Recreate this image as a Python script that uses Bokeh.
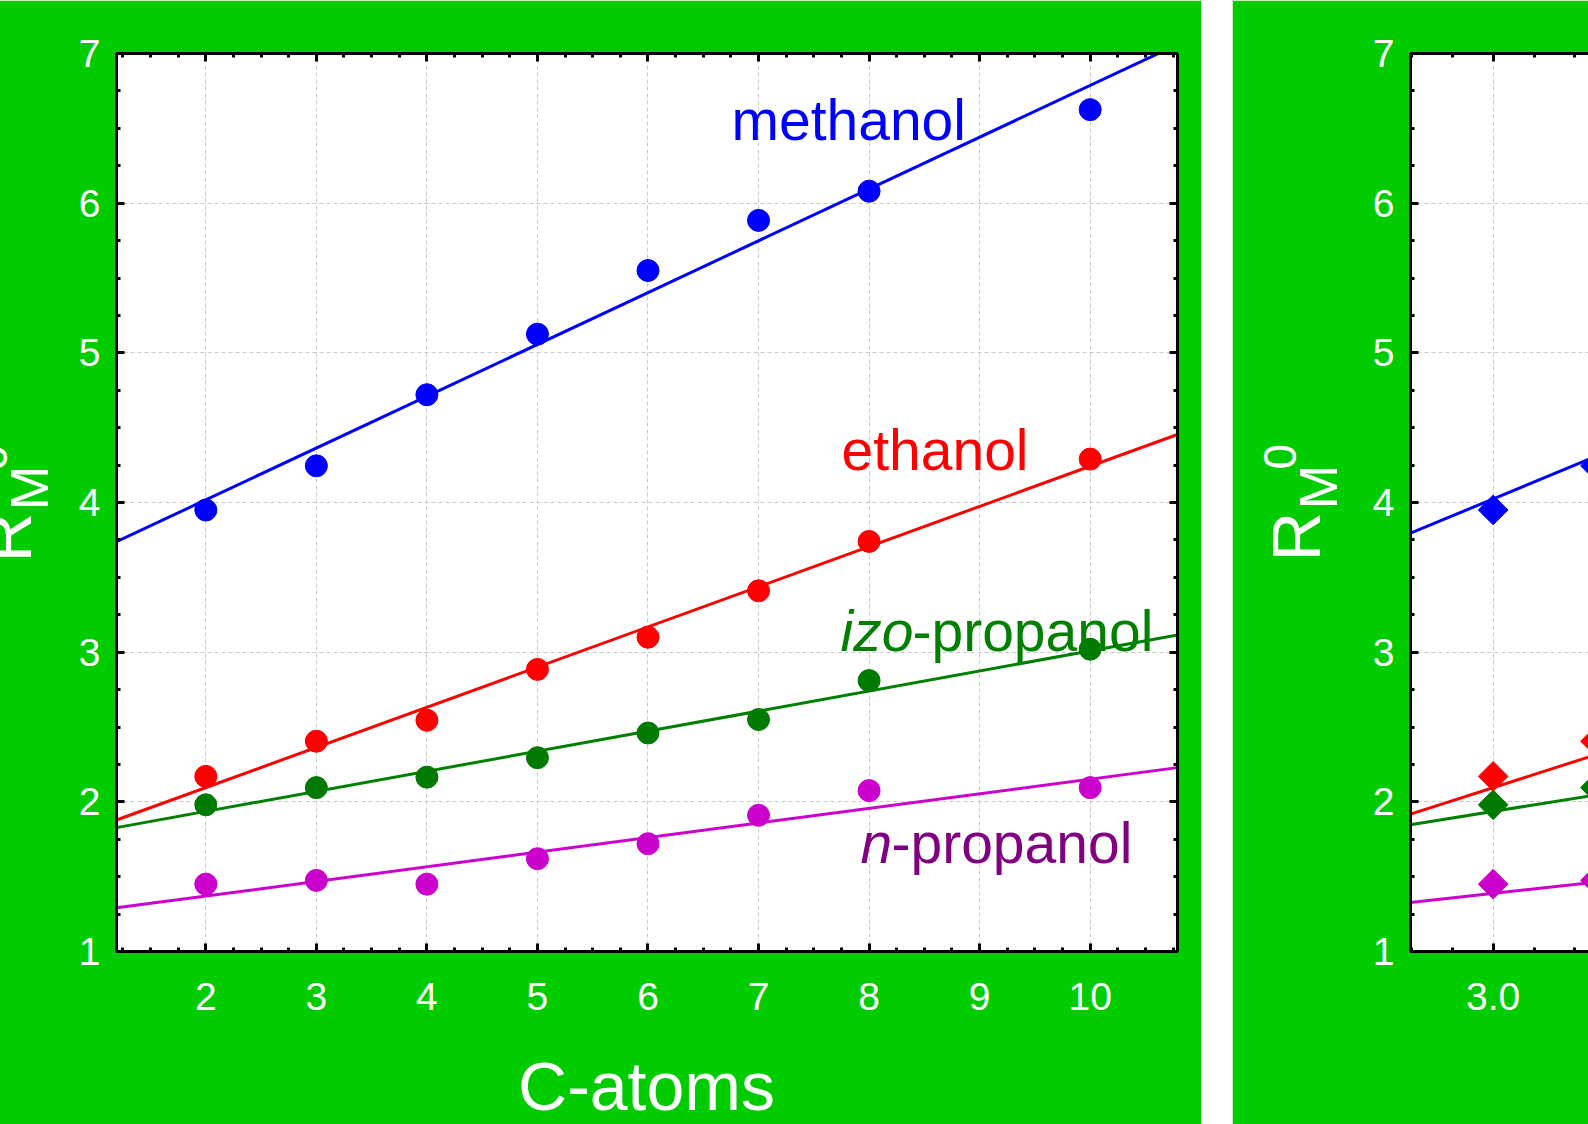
import numpy as np
from bokeh.plotting import figure
from bokeh.models import (Range1d, LinearAxis, SingleIntervalTicker, Label,
                          PrintfTickFormatter, CustomJSTickFormatter)
from bokeh.layouts import row
from bokeh.embed import file_html
from bokeh.resources import INLINE

# ---------------- data ----------------
c_atoms = [2, 3, 4, 5, 6, 7, 8, 10]
methanol = [3.95, 4.245, 4.72, 5.125, 5.55, 5.885, 6.08, 6.625]
ethanol = [2.17, 2.405, 2.545, 2.885, 3.10, 3.41, 3.74, 4.29]
izo_propanol = [1.98, 2.095, 2.165, 2.295, 2.46, 2.55, 2.81, 3.02]
n_propanol = [1.45, 1.475, 1.45, 1.62, 1.72, 1.91, 2.075, 2.095]

# second panel (only its left part is visible)
descriptor = [3.0, 3.25]
right_slope = [1.133, 0.876, 0.44, 0.30]
right_intercept = [0.625, -0.533, 0.616, 0.488]

series_values = [methanol, ethanol, izo_propanol, n_propanol]
marker_colors = ["#0000ff", "#ff0000", "#007a00", "#cc00cc"]
line_colors = ["#0000ff", "#ff0000", "#008000", "#cc00cc"]

GREEN = "#00cc00"
FONT = "Liberation Sans"
MID = 0.346  # baseline offset below text middle, in em

# ---------------- geometry (page px) ----------------
H = 1124
L_END = 1201
GAP = 31
R_LEFT = L_END + GAP
L_SHIFT = 104                        # left figure starts left of the page edge
L_FRAME = (116, 1177, 53, 956)       # left, right, top, bottom
R_FRAME = (1405, 1588, 53, 951)
L_X = (1.192, 10.79)
R_X = (2.798, 3.233)
Y_R = (1.0, 7.0)


def to_data(frame, xr, yr, px, py):
    l, r, t, b = frame
    x = xr[0] + (px - l) / (r - l) * (xr[1] - xr[0])
    y = yr[0] + (b - py) / (b - t) * (yr[1] - yr[0])
    return x, y


def make_fig(fig_left, fig_right, frame, xr):
    l, r, t, b = frame
    p = figure(width=fig_right - fig_left, height=H, output_backend="svg",
               toolbar_location=None, x_range=Range1d(*xr), y_range=Range1d(*Y_R),
               min_border_left=l - fig_left, min_border_right=fig_right - r,
               min_border_top=t, min_border_bottom=H - b)
    p.border_fill_color = GREEN
    p.background_fill_color = "white"
    p.outline_line_color = None
    return p


def style_axis(ax, show_labels=True):
    ax.axis_line_color = "black"
    ax.axis_line_width = 3
    ax.major_tick_in = 8
    ax.major_tick_out = 0
    ax.minor_tick_in = 4
    ax.minor_tick_out = 0
    ax.major_tick_line_width = 3
    ax.minor_tick_line_width = 3
    ax.major_tick_line_color = "black"
    ax.minor_tick_line_color = "black"
    ax.major_label_text_color = "white"
    ax.major_label_text_font = FONT
    ax.major_label_text_font_size = "39px"
    if not show_labels:
        ax.formatter = CustomJSTickFormatter(code="return ''")
        ax.major_label_text_font_size = "10px"


def style_grid(p):
    for g in (p.xgrid, p.ygrid):
        g.grid_line_color = "#c8c8c8"
        g.grid_line_dash = "4 3"
        g.grid_line_width = 1


def canvas_label(p, side, fig_left, px, py, text, size, **kw):
    p.add_layout(Label(x=px - fig_left, y=py, x_units="canvas", y_units="canvas",
                       text=text, text_font=FONT, text_font_size=f"{size}px",
                       text_baseline="middle", **kw), side)


# y-axis title R_M^0 : text, size, baseline offset from frame, start y
Y_PARTS = [("R", 69, -85, 561), ("M", 54, -69, 509), ("0", 46, -110, 469)]


def ylabel_part(p, side, frame, fig_left, part, dy=0):
    txt, size, off, sy = part
    bx = frame[0] + off
    canvas_label(p, side, fig_left, bx - MID * size, sy + dy, txt, size,
                 angle=np.pi / 2, text_align="left", text_color="white")


# ---------------- left panel ----------------
p1 = make_fig(-L_SHIFT, L_END, L_FRAME, L_X)
p1.margin = (0, 0, 0, -L_SHIFT)
xt = SingleIntervalTicker(interval=1, num_minor_ticks=4)
yt = SingleIntervalTicker(interval=1, num_minor_ticks=4)
p1.xaxis.ticker = xt
p1.yaxis.ticker = yt
p1.add_layout(LinearAxis(ticker=xt), "above")
p1.add_layout(LinearAxis(ticker=yt), "right")
for ax in p1.below + p1.left:
    style_axis(ax)
for ax in p1.above + p1.right:
    style_axis(ax, show_labels=False)
p1.left[0].major_label_standoff = 16
p1.below[0].major_label_standoff = 31
style_grid(p1)
p1.xgrid.ticker = xt
p1.ygrid.ticker = yt

xs = np.array(c_atoms, dtype=float)
xline = np.array(L_X)
for vals, mc, lc in zip(series_values, marker_colors, line_colors):
    k, b0 = np.polyfit(xs, np.array(vals), 1)
    p1.line(xline, k * xline + b0, line_color=lc, line_width=3)
    p1.scatter(c_atoms, vals, marker="circle", size=22, fill_color=mc, line_color=mc)

texts = [
    ("methanol", "normal", "#0000ff", 731, 140),
    ("ethanol", "normal", "#ff0000", 841, 471),
    ("izo", "italic", "#008000", 840, 653),
    ("-propanol", "normal", "#008000", 912, 653),
    ("n", "italic", "#800080", 860, 867),
    ("-propanol", "normal", "#800080", 891, 867),
]
for txt, style, col, px, py in texts:
    x, y = to_data(L_FRAME, L_X, Y_R, px, py - MID * 57)
    p1.add_layout(Label(x=x, y=y, text=txt, text_align="left", text_baseline="middle",
                        text_color=col, text_font=FONT, text_font_size="57px",
                        text_font_style=style))

canvas_label(p1, "below", -L_SHIFT, 646, 1109 - MID * 68, "C-atoms", 68,
             text_align="center", text_color="white")
for part in Y_PARTS:
    ylabel_part(p1, "left", L_FRAME, -L_SHIFT, part, dy=1)

# ---------------- right panel ----------------
p2 = make_fig(R_LEFT, 1588, R_FRAME, R_X)
xt2 = SingleIntervalTicker(interval=0.5, num_minor_ticks=5)
yt2 = SingleIntervalTicker(interval=1, num_minor_ticks=4)
p2.xaxis.ticker = xt2
p2.yaxis.ticker = yt2
p2.xaxis.formatter = PrintfTickFormatter(format="%.1f")
p2.add_layout(LinearAxis(ticker=xt2), "above")
for ax in p2.below + p2.left:
    style_axis(ax)
for ax in p2.above:
    style_axis(ax, show_labels=False)
p2.left[0].major_label_standoff = 16
p2.below[0].major_label_standoff = 31
style_grid(p2)
p2.xgrid.ticker = xt2
p2.ygrid.ticker = yt2

xline2 = np.array(R_X)
for vals, mc, lc, k, b0 in zip(series_values, marker_colors, line_colors, right_slope, right_intercept):
    p2.line(xline2, k * xline2 + b0, line_color=lc, line_width=3)
    p2.scatter(descriptor, vals[:len(descriptor)], marker="square", angle=np.pi / 4,
               size=21, fill_color=mc, line_color=mc)
ylabel_part(p2, "left", R_FRAME, R_LEFT, Y_PARTS[0])
ylabel_part(p2, "left", R_FRAME, R_LEFT, Y_PARTS[1])
ylabel_part(p2, "below", R_FRAME, R_LEFT, Y_PARTS[2])

layout = row(p1, p2, spacing=GAP)
open("out.html", "w").write(file_html(layout, INLINE))
